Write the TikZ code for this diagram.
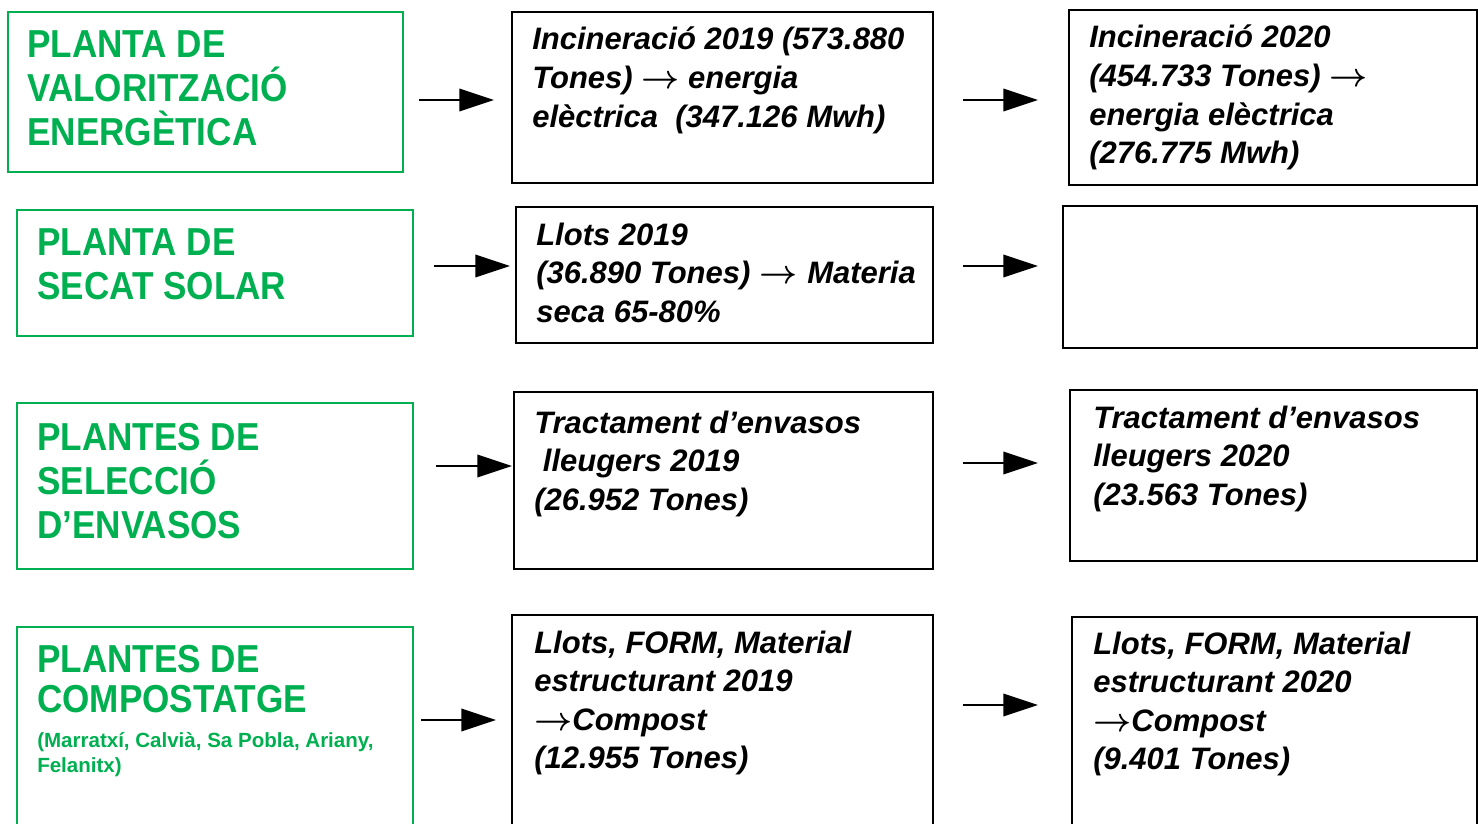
\documentclass[tikz,border=0pt]{standalone}
\usepackage{fontspec}
\setmainfont{Liberation Sans}
\newfontfamily\gfam{Liberation Sans}[FakeStretch=0.9]
\usetikzlibrary{arrows.meta,fit}
\definecolor{pgreen}{HTML}{00B050}
\newcommand\gbig{\gfam\bfseries\fontsize{29.25}{33}\selectfont\lineskiplimit=-1000pt\color{pgreen}}
\newcommand\gsmall{\fontsize{15.4}{18.75}\selectfont\bfseries\lineskiplimit=-1000pt\color{pgreen}}
\newcommand\btxt{\bfseries\itshape\fontsize{23.25}{28.9}\selectfont\lineskiplimit=-1000pt}
\newcommand\arw{\mbox{\boldmath$\rightarrow$}}
\begin{document}
\begin{tikzpicture}[x=0.75pt,y=-0.75pt,
  gbox/.style={draw=pgreen,line width=1.5pt,inner sep=0pt},
  bbox/.style={draw=black,line width=1.5pt,inner sep=0pt},
  txt/.style={anchor=base west,inner sep=0pt},
  arr/.style={line width=1.1pt,-{Triangle[length=26pt,width=17pt]}}]
\useasboundingbox (0,0) rectangle (1478,824);
% boxes
\node[gbox,fit={(8,12)(403,172)}] (g1) {};
\node[bbox,fit={(512,12)(933,183)}] (b12) {};
\node[bbox,fit={(1069,10)(1477,185)}] (b13) {};
\node[gbox,fit={(17,210)(413,336)}] (g2) {};
\node[bbox,fit={(516,207)(933,343)}] (b22) {};
\node[bbox,fit={(1063,206)(1477,348)}] (b23) {};
\node[gbox,fit={(17,403)(413,569)}] (g3) {};
\node[bbox,fit={(514,392)(933,569)}] (b32) {};
\node[bbox,fit={(1070,390)(1477,561)}] (b33) {};
\node[gbox,fit={(17,627)(413,840)}] (g4) {};
\node[bbox,fit={(512,615)(933,840)}] (b42) {};
\node[bbox,fit={(1072,617)(1477,840)}] (b43) {};
% green texts
\node[txt] (tg1) at (27,58) {\gbig\vtop{\hbox{PLANTA DE}\hbox{VALORITZACIÓ}\hbox{ENERGÈTICA}}};
\node[txt] (tg2) at (37,255) {\gbig\vtop{\hbox{PLANTA DE}\hbox{SECAT SOLAR}}};
\node[txt] (tg3) at (37,450) {\gbig\vtop{\hbox{PLANTES DE}\hbox{SELECCIÓ}\hbox{D’ENVASOS}}};
\node[txt] (tg4) at (37,672) {\gbig\vtop{\baselineskip=30pt\hbox{PLANTES DE}\hbox{COMPOSTATGE}}};
\node[txt] (tg4s) at (37,747) {\gsmall\vtop{\hbox{(Marratxí, Calvià, Sa Pobla, Ariany,}\hbox{Felanitx)}}};
% black texts
\node[txt] (t12) at (532,50) {\btxt\vtop{\hbox{Incineració 2019 (573.880}\hbox{Tones) \arw{} energia}\hbox{elèctrica\ \ (347.126 Mwh)}}};
\node[txt] (t13) at (1089,48) {\btxt\vtop{\hbox{Incineració 2020}\hbox{(454.733 Tones) \arw}\hbox{energia elèctrica}\hbox{(276.775 Mwh)}}};
\node[txt] (t22) at (536,245) {\btxt\vtop{\hbox{Llots 2019}\hbox{(36.890 Tones)\hspace{7pt}\arw\hspace{7pt}Materia}\hbox{seca 65-80\%}}};
\node[txt] (t32) at (534,433) {\btxt\vtop{\hbox{Tractament d’envasos}\hbox{\ lleugers 2019}\hbox{(26.952 Tones)}}};
\node[txt] (t33) at (1093,428) {\btxt\vtop{\hbox{Tractament d’envasos}\hbox{lleugers 2020}\hbox{(23.563 Tones)}}};
\node[txt] (t42) at (534,653) {\btxt\vtop{\hbox{Llots, FORM, Material}\hbox{estructurant 2019}\hbox{\arw Compost}\hbox{(12.955 Tones)}}};
\node[txt] (t43) at (1093,654) {\btxt\vtop{\hbox{Llots, FORM, Material}\hbox{estructurant 2020}\hbox{\arw Compost}\hbox{(9.401 Tones)}}};
% arrow end points
\coordinate (a1s) at (419,100); \coordinate (a1e) at (494,100);
\coordinate (a2s) at (963,100); \coordinate (a2e) at (1038,100);
\coordinate (a3s) at (434,266); \coordinate (a3e) at (510,266);
\coordinate (a4s) at (963,266); \coordinate (a4e) at (1038,266);
\coordinate (a5s) at (436,466); \coordinate (a5e) at (512,466);
\coordinate (a6s) at (963,463); \coordinate (a6e) at (1038,463);
\coordinate (a7s) at (421,720); \coordinate (a7e) at (496,720);
\coordinate (a8s) at (963,705); \coordinate (a8e) at (1038,705);
\foreach \i in {1,...,8} {\draw[arr] (a\i s) -- (a\i e);}
\end{tikzpicture}
\end{document}
